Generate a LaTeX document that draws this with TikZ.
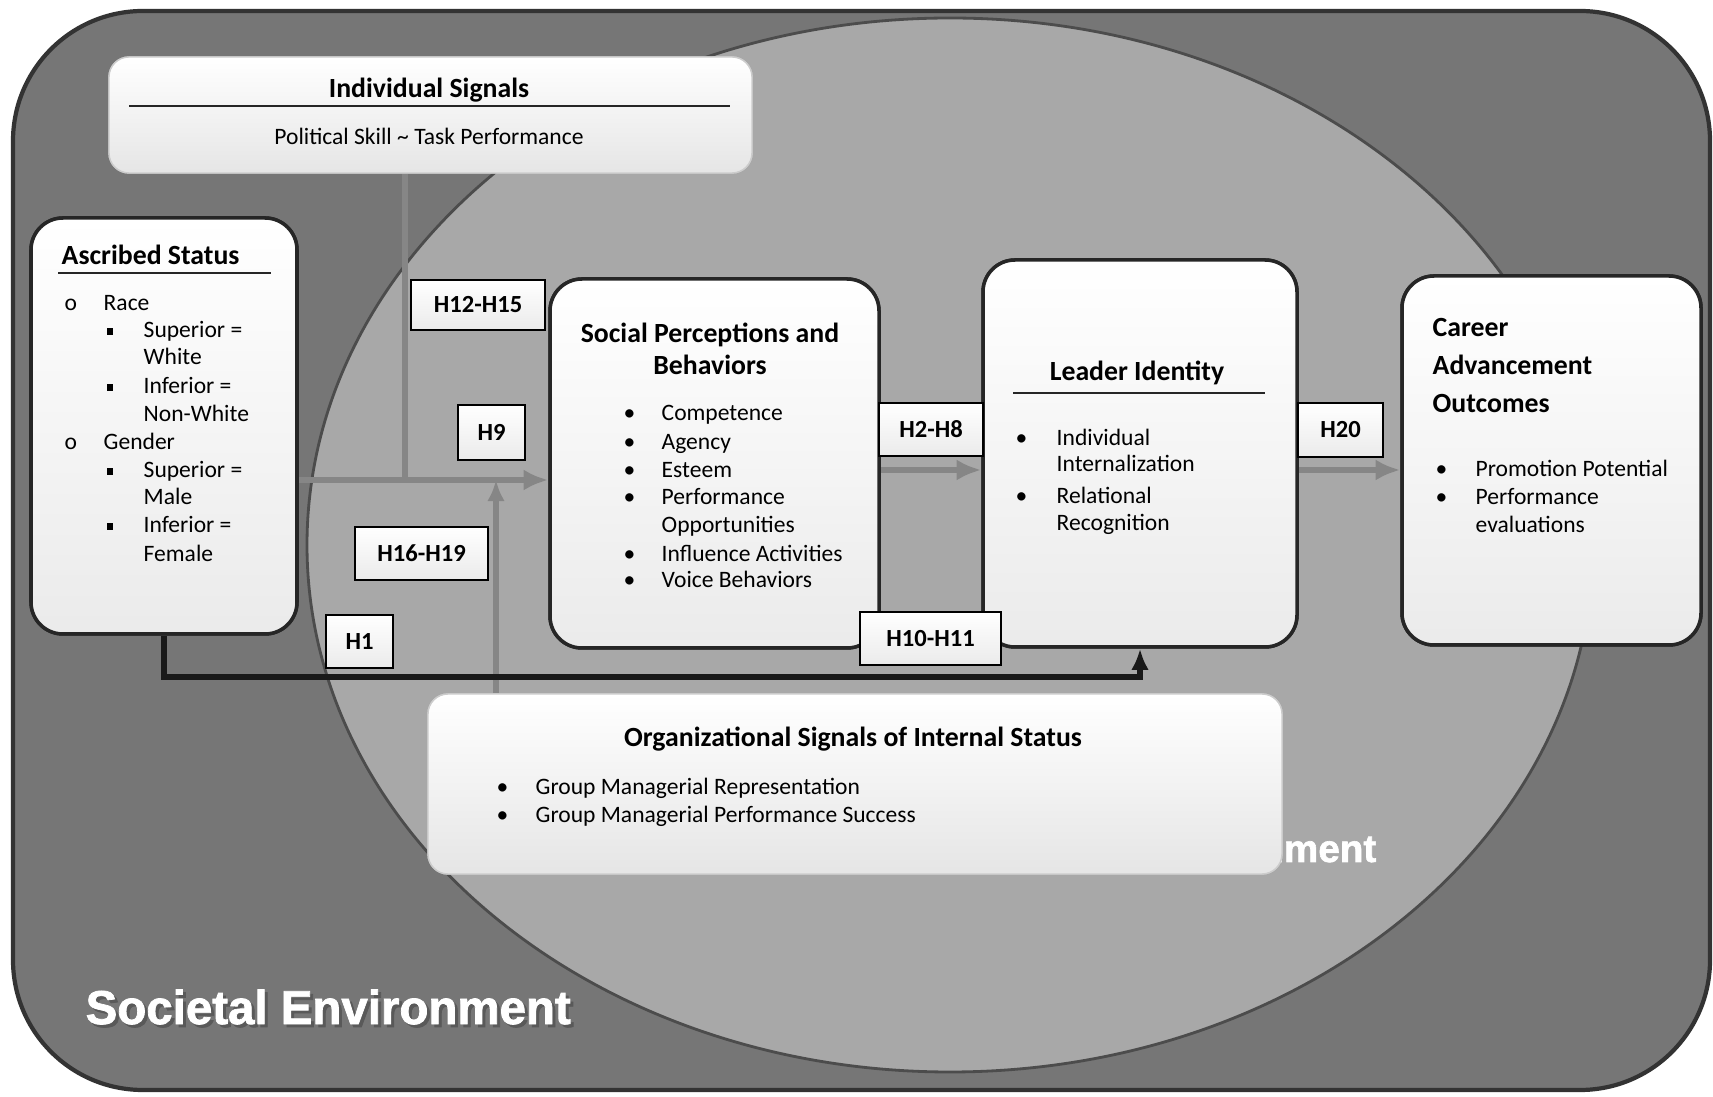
\documentclass[tikz,border=0pt]{standalone}
\usepackage{fontspec}
\setmainfont{Carlito}
\newfontfamily\headfont{Liberation Sans}[BoldFeatures={FakeBold=1.6}]
\usetikzlibrary{arrows.meta}
\definecolor{outerg}{RGB}{118,118,118}
\definecolor{innerg}{RGB}{168,168,168}
\definecolor{lineg}{RGB}{134,134,134}
\newcommand\itemfs{\fontsize{6.7}{8}\selectfont}
\newcommand\ttlfs{\fontsize{7.9}{9.5}\selectfont\bfseries}
\newcommand\hfs{\fontsize{7}{8}\selectfont\bfseries}
\newcommand\envfs{\headfont\bfseries\fontsize{13.5}{16}\selectfont}
\newcommand\sqbul{\rule[0.3ex]{0.6ex}{0.6ex}}
\begin{document}
\begin{tikzpicture}[x=0.1mm,y=-0.1mm,
  bigbox/.style={draw=black!85, line width=1pt, rounded corners=3.2mm, top color=white, bottom color=black!8, inner sep=0},
  softbox/.style={draw=black!20, line width=0.4pt, rounded corners=2mm, top color=white, bottom color=black!10, inner sep=0},
  hbox/.style={draw=black, line width=0.8pt, top color=white, bottom color=black!8, font=\hfs, inner sep=0},
  txt/.style={anchor=base west, inner sep=0, font=\itemfs},
  ttl/.style={anchor=base, inner sep=0, font=\ttlfs},
  ttlw/.style={anchor=base west, inner sep=0, font=\ttlfs},
  gline/.style={draw=lineg, line width=1.8pt},
  blackline/.style={draw=black!90, line width=1.6pt},
  uline/.style={draw=black!85, line width=0.6pt},
  envtext/.style={anchor=base west, inner sep=0, font=\envfs},
]
\useasboundingbox (0,0) rectangle (1713,1097);
\fill[white] (0,0) rectangle (1713,1097);
% environments
\fill[outerg, rounded corners=13mm] (13,11) rectangle (1710,1090);
\begin{scope}
  \clip[rounded corners=13mm] (13,11) rectangle (1710,1090);
  \draw[fill=innerg, draw=black!70, line width=0.8pt] (950,545) ellipse [x radius=64.3mm, y radius=52.7mm];
\end{scope}
\draw[black!80, line width=1.2pt, rounded corners=13mm] (13,11) rectangle (1710,1090);
\node[anchor=base east, inner sep=0, font=\headfont\bfseries\fontsize{11}{13}\selectfont, text=white] (orgenv) at (1377,862) {Organizational Environment};
\node[envtext, text=black!65] (socenvsh) at (88,1027) {Societal Environment};
\node[envtext, text=white] (socenv) at (85,1024) {Societal Environment};

% boxes (anchors for connectors)
\node[softbox, minimum width=64.3mm, minimum height=11.6mm] (isig) at (430.5,115) {};
\node[bigbox, minimum width=26.6mm, minimum height=41.6mm] (ascr) at (164,426) {};
\node[bigbox, minimum width=32.9mm, minimum height=36.9mm] (soc) at (714.5,463.5) {};
\node[bigbox, minimum width=31.4mm, minimum height=38.7mm] (lead) at (1140,453.5) {};
\node[bigbox, minimum width=29.9mm, minimum height=36.9mm] (car) at (1551.5,460.5) {};
\node[softbox, minimum width=85.4mm, minimum height=18mm] (org) at (855,784) {};

% connectors
\coordinate (jA) at (405,480);
\coordinate (jB) at (496,480);
\coordinate (jC) at (930,470);
\draw[gline] (isig.south -| jA) -- (jA);
\draw[gline, -{Latex[length=7pt,width=6pt]}] (ascr.east |- jA) -- (soc.west |- jA);
\draw[gline, -{Latex[length=6pt,width=5pt]}] (org.north -| jB) -- (jB);
\draw[gline, -{Latex[length=7pt,width=6pt]}] (soc.east |- jC) -- (lead.west |- jC);
\draw[gline, -{Latex[length=7pt,width=6pt]}] (lead.east |- jC) -- (car.west |- jC);
\draw[blackline, -{Latex[length=6pt,width=5pt]}] (ascr.south) -- ++(0,41) -| (lead.south);

% boxes drawn again above the connectors
\node[softbox, minimum width=64.3mm, minimum height=11.6mm] (isig2) at (isig) {};
\node[bigbox, minimum width=26.6mm, minimum height=41.6mm] (ascr2) at (ascr) {};
\node[bigbox, minimum width=32.9mm, minimum height=36.9mm] (soc2) at (soc) {};
\node[bigbox, minimum width=31.4mm, minimum height=38.7mm] (lead2) at (lead) {};
\node[bigbox, minimum width=29.9mm, minimum height=36.9mm] (car2) at (car) {};
\node[softbox, minimum width=85.4mm, minimum height=18mm] (org2) at (org) {};

% hypothesis labels
\node[hbox, minimum width=13.4mm, minimum height=5.0mm] (h1215) at (478,305) {H12-H15};
\node[hbox, minimum width=6.7mm, minimum height=5.5mm] (h9) at (491.5,432.5) {H9};
\node[hbox, minimum width=13.3mm, minimum height=5.3mm] (h1619) at (421.5,553.5) {H16-H19};
\node[hbox, minimum width=6.7mm, minimum height=5.3mm] (h1) at (359.5,641.5) {H1};
\node[hbox, minimum width=10.4mm, minimum height=5.3mm] (h28) at (931,429.5) {H2-H8};
\node[hbox, minimum width=14.1mm, minimum height=5.3mm] (h1011) at (930.5,638.5) {H10-H11};
\node[hbox, minimum width=8.5mm, minimum height=5.4mm] (h20) at (1340.5,430) {H20};

% Individual Signals
\node[ttl] (isigT) at (429,98) {Individual Signals};
\draw[uline] (129,106) -- (730,106);
\node[anchor=base, inner sep=0, font=\itemfs] (isigS) at (429,145) {Political Skill \textasciitilde{} Task Performance};

% Ascribed Status
\node[ttlw] (ascrT) at (61,265) {Ascribed Status};
\draw[uline] (58,273) -- (271,273);
\node[txt] (ao1) at (64,311) {o};
\node[txt] (a1) at (103,311) {Race};
\node[txt] (ab1) at (106,338) {\sqbul};
\node[txt] (a2) at (143,338) {Superior =};
\node[txt] (a3) at (143,365) {White};
\node[txt] (ab2) at (106,394) {\sqbul};
\node[txt] (a4) at (143,394) {Inferior =};
\node[txt] (a5) at (143,422) {Non-White};
\node[txt] (ao2) at (64,450) {o};
\node[txt] (a6) at (103,450) {Gender};
\node[txt] (ab3) at (106,478) {\sqbul};
\node[txt] (a7) at (143,478) {Superior =};
\node[txt] (a8) at (143,505) {Male};
\node[txt] (ab4) at (106,533) {\sqbul};
\node[txt] (a9) at (143,533) {Inferior =};
\node[txt] (a10) at (143,562) {Female};

% Social Perceptions
\node[ttl] (socT1) at (710,343) {Social Perceptions and};
\node[ttl] (socT2) at (710,375) {Behaviors};
\foreach \t/\y [count=\i] in {Competence/421, Agency/450, Esteem/478, Performance/505, Opportunities/533, Influence Activities/562, Voice Behaviors/588}
  \node[txt] (sp\i) at (661,\y) {\t};
\foreach \y [count=\i] in {421,450,478,505,562,588}
  \node[txt] (spb\i) at (623,\y) {\textbullet};

% Leader Identity
\node[ttl] (leadT) at (1137,381) {Leader Identity};
\draw[uline] (1013,393) -- (1265,393);
\foreach \t/\y [count=\i] in {Individual/446, Internalization/472, Relational/504, Recognition/531}
  \node[txt] (li\i) at (1056,\y) {\t};
\node[txt] (lib1) at (1015,446) {\textbullet};
\node[txt] (lib2) at (1015,504) {\textbullet};

% Career
\node[ttlw] (carT1) at (1432,337) {Career};
\node[ttlw] (carT2) at (1432,375) {Advancement};
\node[ttlw] (carT3) at (1432,413) {Outcomes};
\foreach \t/\y [count=\i] in {Promotion Potential/477, Performance/505, evaluations/533}
  \node[txt] (co\i) at (1475,\y) {\t};
\node[txt] (cob1) at (1435,477) {\textbullet};
\node[txt] (cob2) at (1435,505) {\textbullet};

% Organizational signals
\node[ttl] (orgT) at (853,747) {Organizational Signals of Internal Status};
\node[txt] (ob1) at (496,795) {\textbullet};
\node[txt] (o1) at (535,795) {Group Managerial Representation};
\node[txt] (ob2) at (496,823) {\textbullet};
\node[txt] (o2) at (535,823) {Group Managerial Performance Success};
\end{tikzpicture}
\end{document}
